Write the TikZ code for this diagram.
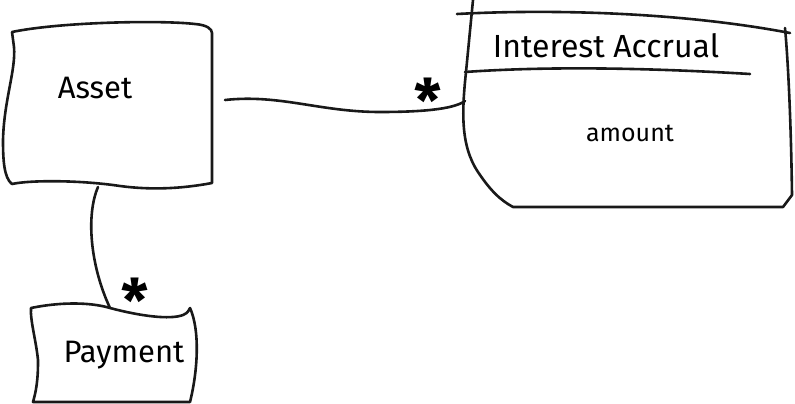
\documentclass[tikz,border=0pt]{standalone}
\usepackage{fontspec}
\setmainfont{Fira Sans}
\begin{document}
\begin{tikzpicture}[x=1pt,y=-1pt,
  sk/.style={line width=2.6pt, line cap=round, line join=round, black!90},
  lbl/.style={font=\fontsize{31}{34}\selectfont, inner sep=0pt},
  big/.style={font=\fontsize{32}{36}\selectfont, inner sep=0pt},
  small/.style={font=\fontsize{25}{28}\selectfont, inner sep=0pt},
  mult/.style={font=\fontsize{60}{60}\selectfont\bfseries, inner sep=0pt}]
\useasboundingbox (0,0) rectangle (795,404);
% Asset box
\draw[sk] (12,32) .. controls (60,22) and (160,20) .. (195,24)
  .. controls (207,25) and (212,29) .. (212,33) -- (212,183)
  .. controls (180,189) and (150,190) .. (120,186)
  .. controls (80,180) and (30,180) .. (12,184)
  .. controls (4,178) and (3,160) .. (3,140)
  .. controls (4,100) and (16,70) .. (14,47) -- cycle;
\node[lbl] (asset) at (95,88) {Asset};
% Interest Accrual box
\draw[sk] (457,14) .. controls (550,9) and (680,12) .. (790,33);
\draw[sk] (473,0) -- (466,72) .. controls (462,110) and (460,145) .. (478,172)
  .. controls (490,190) and (500,200) .. (513,207) -- (783,207) -- (792,195)
  .. controls (791,120) and (788,60) .. (785,28);
\draw[sk] (465,72) .. controls (550,66) and (650,68) .. (750,74);
\node[big] (ia) at (606,46) {Interest Accrual};
\node[small] (amount) at (630,133) {amount};
% Payment box
\draw[sk] (31,308) .. controls (60,302) and (90,302) .. (110,308)
  .. controls (140,316) and (170,320) .. (183,315)
  .. controls (188,313) and (189,310) .. (190,308)
  .. controls (200,330) and (198,370) .. (190,402) -- (33,402)
  .. controls (38,385) and (38,370) .. (38,360)
  .. controls (36,340) and (30,320) .. (31,308) -- cycle;
\node[lbl] (pay) at (124,355) {Payment};
% connectors
\coordinate (a1) at (225,100);
\coordinate (i1) at (465,101);
\coordinate (a2) at (98,187);
\coordinate (p1) at (110,308);
\draw[sk] (a1) .. controls (280,94) and (320,112) .. (380,112)
  .. controls (430,112) and (455,108) .. (i1);
\draw[sk] (a2) .. controls (86,215) and (90,265) .. (p1);
\node[mult] (m1) at (428,100) {*};
\node[mult] (m2) at (135,300) {*};
\end{tikzpicture}
\end{document}
